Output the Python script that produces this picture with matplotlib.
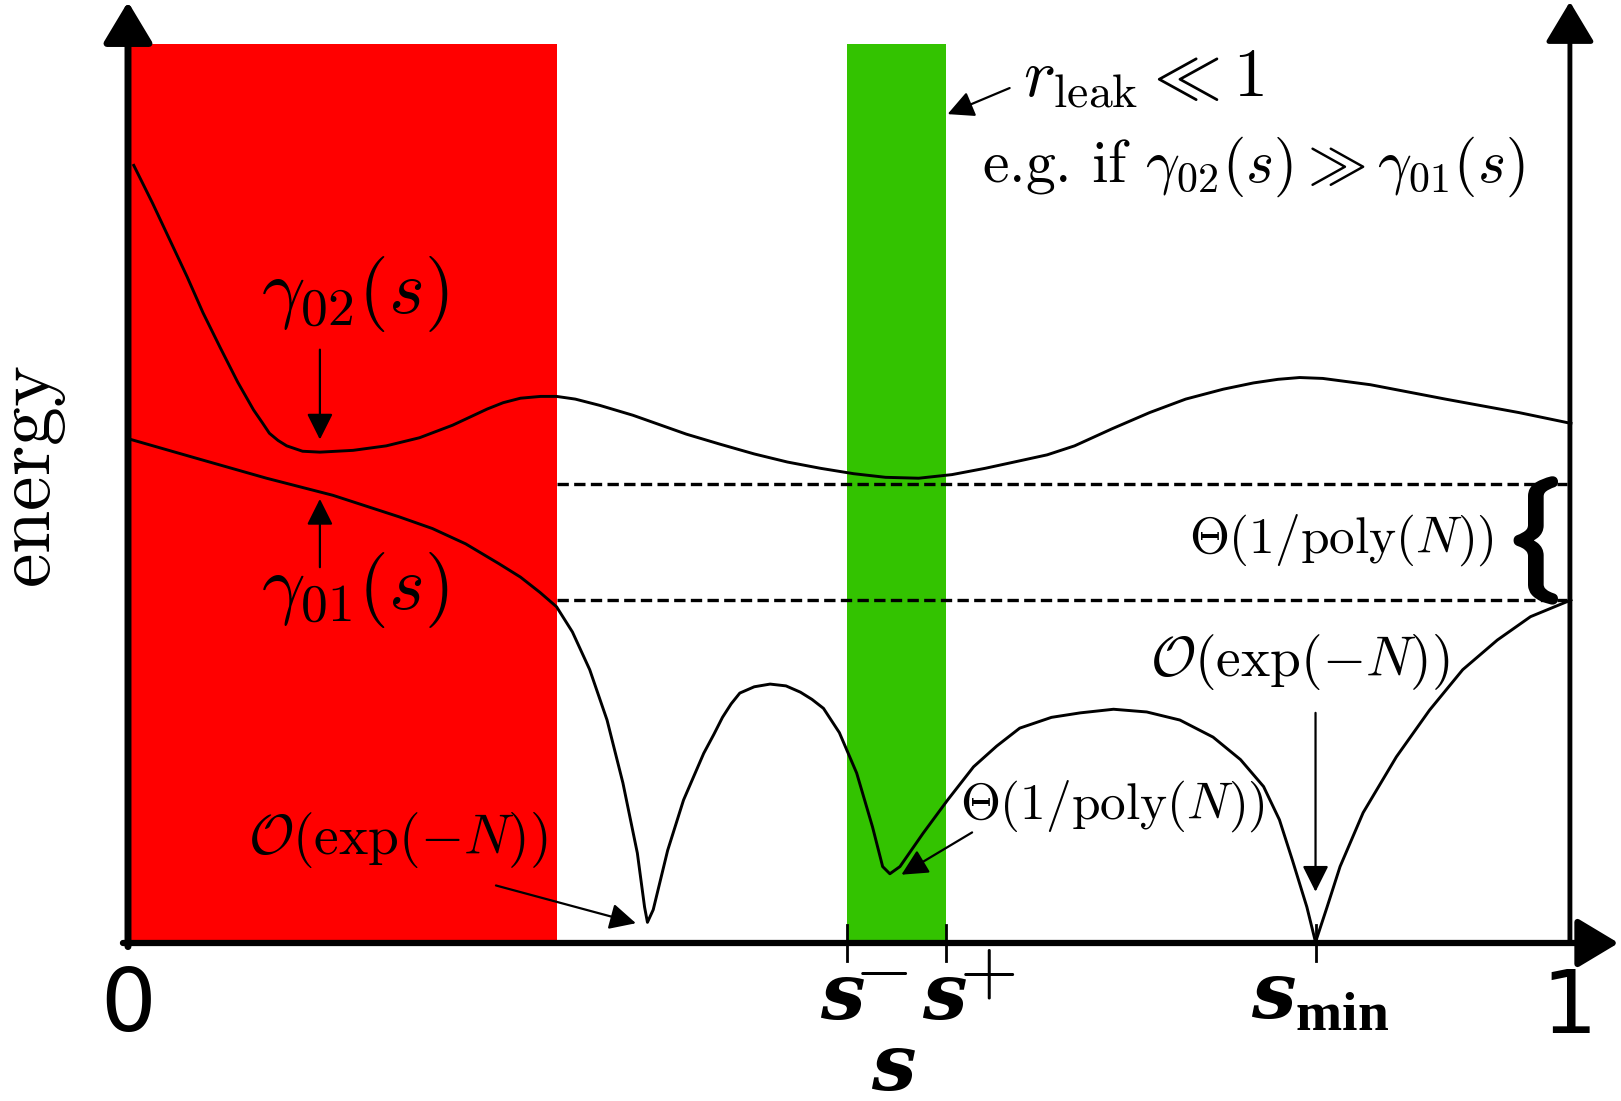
import matplotlib
matplotlib.use('Agg')
import matplotlib.pyplot as plt
import matplotlib.patheffects as pe

plt.rcParams['mathtext.fontset'] = 'cm'
plt.rcParams['mathtext.it'] = 'DejaVu Serif:italic:bold'
plt.rcParams['mathtext.bf'] = 'Liberation Serif:bold'
plt.rcParams['mathtext.rm'] = 'Liberation Serif'

# gamma_02(s), upper level
s_upper = [0.004, 0.017, 0.029, 0.041, 0.052, 0.064, 0.076, 0.087, 0.093, 0.098,
           0.104, 0.110, 0.121, 0.133, 0.156, 0.179, 0.202, 0.225, 0.237, 0.249,
           0.260, 0.272, 0.286, 0.297, 0.310, 0.327, 0.350, 0.387, 0.410, 0.434,
           0.457, 0.480, 0.503, 0.525, 0.548, 0.571, 0.594, 0.617, 0.637, 0.656,
           0.682, 0.708, 0.733, 0.759, 0.780, 0.797, 0.812, 0.828, 0.861, 0.913,
           0.964, 1.000]
e_upper = [0.865, 0.823, 0.782, 0.741, 0.701, 0.662, 0.624, 0.593, 0.579, 0.567,
           0.559, 0.553, 0.547, 0.546, 0.548, 0.553, 0.562, 0.576, 0.585, 0.594,
           0.601, 0.606, 0.608, 0.608, 0.605, 0.598, 0.587, 0.566, 0.555, 0.544,
           0.535, 0.528, 0.522, 0.518, 0.517, 0.521, 0.528, 0.536, 0.543, 0.553,
           0.572, 0.590, 0.605, 0.616, 0.623, 0.627, 0.629, 0.628, 0.621, 0.605,
           0.590, 0.578]

# gamma_01(s), lower level
s_lower = [0.000, 0.050, 0.096, 0.142, 0.188, 0.211, 0.234, 0.257, 0.272, 0.2855,
           0.297, 0.308, 0.320, 0.332, 0.343, 0.353, 0.358, 0.360, 0.364, 0.374,
           0.385, 0.399, 0.406, 0.412, 0.418, 0.424, 0.434, 0.445, 0.456, 0.466,
           0.474, 0.482, 0.493, 0.505, 0.516, 0.523, 0.528, 0.535, 0.551, 0.568,
           0.586, 0.602, 0.618, 0.640, 0.660, 0.683, 0.706, 0.729, 0.752, 0.771,
           0.787, 0.798, 0.807, 0.817, 0.823, 0.831, 0.840, 0.856, 0.879, 0.902,
           0.925, 0.949, 0.972, 1.000]
e_lower = [0.561, 0.538, 0.517, 0.498, 0.474, 0.461, 0.444, 0.422, 0.407, 0.390,
           0.374, 0.346, 0.304, 0.248, 0.178, 0.100, 0.040, 0.023, 0.037, 0.103,
           0.159, 0.211, 0.232, 0.251, 0.266, 0.278, 0.285, 0.288, 0.286, 0.279,
           0.271, 0.261, 0.234, 0.189, 0.129, 0.085, 0.077, 0.085, 0.122, 0.159,
           0.196, 0.219, 0.239, 0.251, 0.256, 0.260, 0.257, 0.248, 0.229, 0.204,
           0.174, 0.137, 0.092, 0.040, 0.001, 0.040, 0.085, 0.145, 0.207, 0.259,
           0.304, 0.337, 0.363, 0.3815]

gap_levels = [0.511, 0.3815]
red_region = [0.0, 0.297]
green_region = [0.498, 0.567]
region_top = 1.0
s_minus, s_plus, s_min = 0.498, 0.567, 0.823

fig = plt.figure(figsize=(16.21, 11.01), dpi=100)
ax = fig.add_axes([0, 0, 1, 1])
ax.set_xlim(-0.0887, 1.0347)
ax.set_ylim(-0.17575, 1.04894)
ax.axis('off')

ax.fill_between(red_region, 0, region_top, color='#ff0000', lw=0, zorder=1)
ax.fill_between(green_region, 0, region_top, color='#33c300', lw=0, zorder=1)

ax.plot(s_upper, e_upper, color='black', lw=2.1, zorder=3, solid_joinstyle='round')
ax.plot(s_lower, e_lower, color='black', lw=2.1, zorder=3, solid_joinstyle='round')

for lev in gap_levels:
    ax.plot([red_region[1], 0.997], [lev, lev], color='black', lw=2.4,
            dashes=(3.4, 1.6), zorder=2)

# axes with arrow heads
big = dict(arrowstyle='-|>,head_length=0.6,head_width=0.36', color='black',
           mutation_scale=42, shrinkA=0, shrinkB=0)
ax.annotate('', xy=(0, 1.047), xytext=(0, -0.004),
            arrowprops=dict(big, lw=5), zorder=5)
ax.annotate('', xy=(1.033, 0), xytext=(-0.0035, 0),
            arrowprops=dict(big, lw=4.5), zorder=5)
ax.annotate('', xy=(0.9993, 1.047), xytext=(0.9993, 0),
            arrowprops=dict(big, lw=3.5), zorder=5)

for t in [s_minus, s_plus, s_min]:
    ax.plot([t, t], [-0.02, 0.02], color='black', lw=2, zorder=5)

small = dict(arrowstyle='-|>', color='black', lw=1.6, mutation_scale=40,
             shrinkA=0, shrinkB=0)
ax.annotate('', xy=(0.133, 0.560), xytext=(0.133, 0.660), arrowprops=small)
ax.annotate('', xy=(0.133, 0.494), xytext=(0.133, 0.418), arrowprops=small)
ax.annotate('', xy=(0.352, 0.022), xytext=(0.255, 0.064), arrowprops=small)
ax.annotate('', xy=(0.536, 0.076), xytext=(0.585, 0.123), arrowprops=small)
ax.annotate('', xy=(0.823, 0.057), xytext=(0.823, 0.256), arrowprops=small)
ax.annotate('', xy=(0.568, 0.922), xytext=(0.611, 0.951), arrowprops=small)

ax.text(0.157, 0.722, r'$\gamma_{02}(s)$', fontsize=55, ha='center', va='center')
ax.text(0.157, 0.393, r'$\gamma_{01}(s)$', fontsize=55, ha='center', va='center')
ax.text(0.187, 0.115, r'$\mathcal{O}(\exp(-N))$', fontsize=40, ha='center', va='center')
ax.text(0.812, 0.313, r'$\mathcal{O}(\exp(-N))$', fontsize=40, ha='center', va='center')
ax.text(0.682, 0.152, r'$\Theta(1/\mathrm{poly}(N))$', fontsize=37, ha='center', va='center')
ax.text(0.947, 0.448, r'$\Theta(1/\mathrm{poly}(N))$', fontsize=37, ha='right', va='center')
ax.text(0.9725, 0.447, r'$\{$', fontsize=72, ha='center', va='center',
        path_effects=[pe.withStroke(linewidth=6, foreground='black')])
ax.text(0.620, 0.963, r'$r_{\mathrm{leak}} \ll 1$', fontsize=49, ha='left', va='center')
ax.text(0.592, 0.864, r'e.g. if $\gamma_{02}(s) \gg \gamma_{01}(s)$',
        fontsize=43, ha='left', va='center', family='cmr10')
ax.text(-0.094, 0.519, r'$\mathrm{energy}$', fontsize=56, rotation=90,
        ha='left', va='center')

ax.text(0.0, -0.071, '0', fontsize=63, ha='center', va='center', family='DejaVu Sans')
ax.text(0.999, -0.073, '1', fontsize=63, ha='center', va='center', family='DejaVu Sans')
ax.text(0.4795, -0.084, r'$s$', fontsize=57, ha='left', va='baseline',
        math_fontfamily='custom')
ax.text(0.522, -0.030, r'$-$', fontsize=54, ha='center', va='center')
ax.text(0.550, -0.084, r'$s$', fontsize=57, ha='left', va='baseline',
        math_fontfamily='custom')
ax.text(0.5955, -0.032, r'$+$', fontsize=54, ha='center', va='center')
ax.text(0.778, -0.084, r'$s_{\mathbf{min}}$', fontsize=57, ha='left', va='baseline',
        math_fontfamily='custom')
ax.text(0.515, -0.163, r'$s$', fontsize=57, ha='left', va='baseline',
        math_fontfamily='custom')

fig.savefig('out.png', dpi=100)
